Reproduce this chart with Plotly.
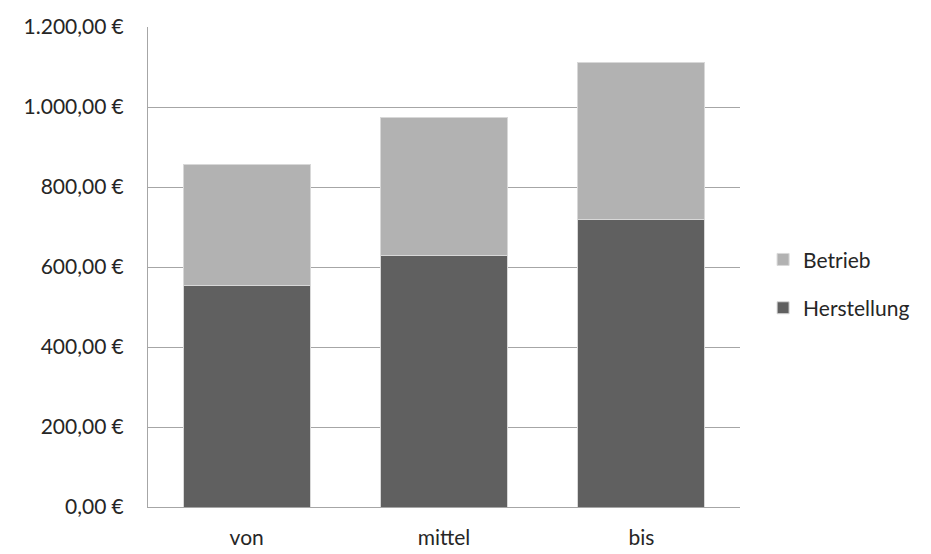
import plotly.graph_objects as go

categories = ["von", "mittel", "bis"]
herstellung = [555, 629, 719]
betrieb = [302, 346, 392]
y_ticks = [0, 200, 400, 600, 800, 1000, 1200]


def euro(v):
    # German number format: 1.200,00 €
    s = f"{v:,.2f}".replace(",", "X").replace(".", ",").replace("X", ".")
    return s + "\u202f€"


FONT = "Lato, 'Open Sans', sans-serif"
TEXT = "#262626"

fig = go.Figure()
fig.add_trace(go.Bar(
    name="Herstellung", x=categories, y=herstellung,
    marker=dict(color="#606060", line=dict(color="#d8d8d8", width=1)),
    legendgroup="h", legendrank=2,
))
fig.add_trace(go.Bar(
    name="Betrieb", x=categories, y=betrieb,
    marker=dict(color="#b2b2b2", line=dict(color="#d8d8d8", width=1)),
    legendgroup="b", legendrank=1,
))

# the page body adds an 8px offset, margins are set to compensate
fig.update_layout(
    width=931, height=554,
    barmode="stack", bargap=0.355,
    paper_bgcolor="white", plot_bgcolor="white",
    margin=dict(l=140, r=199, t=19, b=55, autoexpand=False),
    font=dict(family=FONT, size=21, color=TEXT),
    legend=dict(
        x=1.039, xanchor="left", y=0.465, yanchor="middle",
        traceorder="grouped", tracegroupgap=18,
        font=dict(size=21, color=TEXT),
        itemwidth=30,
    ),
)
fig.update_xaxes(
    showline=True, linecolor="#a6a6a6", linewidth=1,
    ticks="", ticklabelstandoff=12, showgrid=False, automargin=False,
)
fig.update_yaxes(
    range=[0, 1200], tickvals=y_ticks, ticktext=[euro(v) for v in y_ticks],
    showgrid=True, gridcolor="#a6a6a6", gridwidth=1,
    showline=True, linecolor="#a6a6a6", linewidth=1,
    ticks="", ticklabelstandoff=19, zeroline=False, automargin=False,
)

fig.write_html("out.html")
